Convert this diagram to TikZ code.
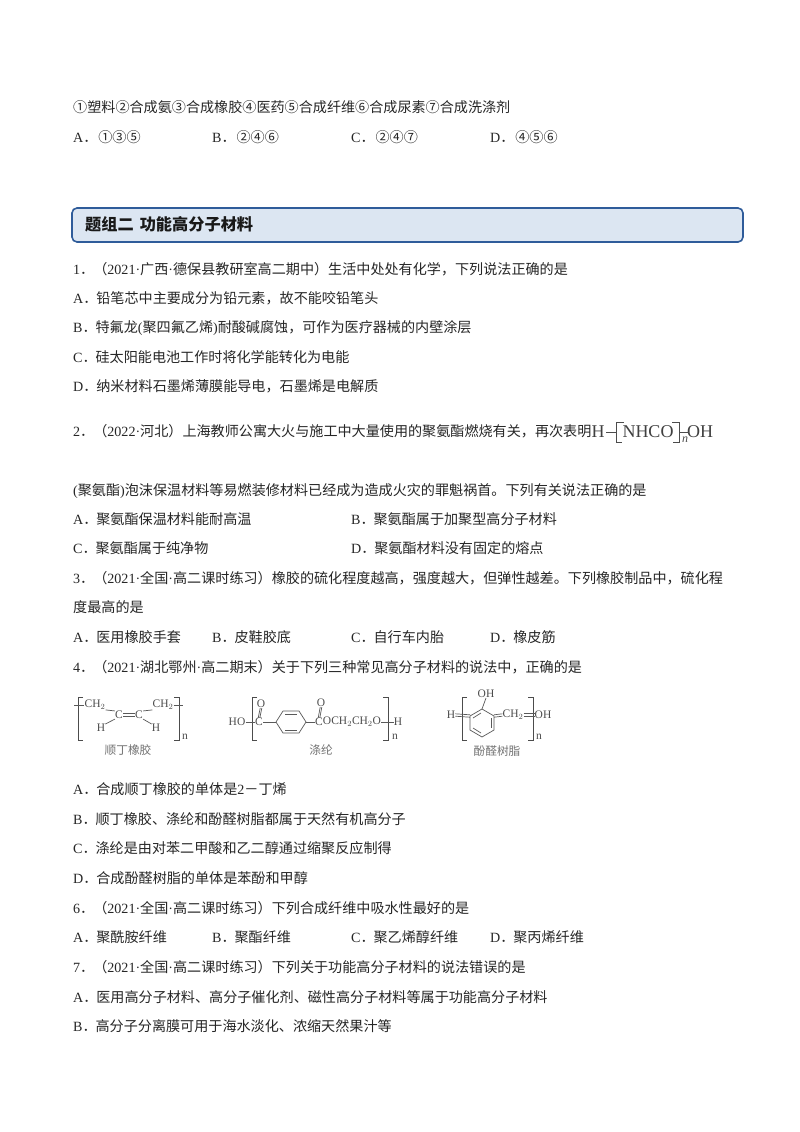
\documentclass[tikz,border=0pt]{standalone}
\usepackage{graphicx}
\usepackage{fontspec}
\setmainfont{Noto Sans CJK SC}
\newfontfamily\latf{Liberation Serif}
\newcommand\LL[1]{{\latf #1}}
\newcommand\dt{\makebox[13bp][l]{．}}
\newcommand\cn[1]{\makebox[1em]{#1}}
\newcounter{tl}
\tikzset{
  x=1bp,y=-1bp,
  body/.style={anchor=west,inner sep=0pt,text height=12.5bp,text depth=1.7bp,font=\fontsize{14.1bp}{15bp}\selectfont,text=black!85},
  chem/.style={inner sep=0pt,font=\latf\fontsize{11.5bp}{12bp}\selectfont,text=black!70},
  chemcap/.style={inner sep=0pt,font=\fontsize{11.7bp}{12bp}\selectfont,text=black!55},
  bond/.style={draw=black!65,line width=0.7bp},
  brk/.style={draw=black!70,line width=0.9bp},
  pu/.style={inner sep=0pt,font=\latf\fontsize{18bp}{18bp}\selectfont,text=black!75},
  head/.style={draw=headline,fill=headfill,line width=1.6bp,rounded corners=5bp},
}
\definecolor{headline}{HTML}{2F5C9A}
\definecolor{headfill}{HTML}{DCE6F2}
\newcommand\tx[3]{\stepcounter{tl}\node[body] (t\arabic{tl}) at (#1,#2) {#3};}
\begin{document}
\begin{tikzpicture}
\useasboundingbox (0,0) rectangle (800,1132);
\fill[white] (0,0) rectangle (800,1132);

\tx{73}{107}{\cn{①}塑料\cn{②}合成氨\cn{③}合成橡胶\cn{④}医药\cn{⑤}合成纤维\cn{⑥}合成尿素\cn{⑦}合成洗涤剂}
\tx{73}{137}{\LL{A}\dt\hspace{2bp}\cn{①}\cn{③}\cn{⑤}}
\tx{212}{137}{\LL{B}\dt\hspace{2bp}\cn{②}\cn{④}\cn{⑥}}
\tx{351}{137}{\LL{C}\dt\hspace{2bp}\cn{②}\cn{④}\cn{⑦}}
\tx{490}{137}{\LL{D}\dt\hspace{2bp}\cn{④}\cn{⑤}\cn{⑥}}

\draw[head] (72,208) rectangle (743,242);
\node[anchor=west,inner sep=0pt,font=\bfseries\fontsize{16.2bp}{17bp}\selectfont,text=black!90] (hd) at (85,224) {题组二\hspace{6bp}功能高分子材料};

\tx{73}{269}{\LL{1}\dt（\LL{2021·}广西\LL{·}德保县教研室高二期中）生活中处处有化学，下列说法正确的是}
\tx{73}{298}{\LL{A}\dt 铅笔芯中主要成分为铅元素，故不能咬铅笔头}
\tx{73}{327}{\LL{B}\dt 特氟龙\LL{(}聚四氟乙烯\LL{)}耐酸碱腐蚀，可作为医疗器械的内壁涂层}
\tx{73}{357}{\LL{C}\dt 硅太阳能电池工作时将化学能转化为电能}
\tx{73}{386}{\LL{D}\dt 纳米材料石墨烯薄膜能导电，石墨烯是电解质}
\tx{73}{431}{\LL{2}\dt（\LL{2022·}河北）上海教师公寓大火与施工中大量使用的聚氨酯燃烧有关，再次表明}

\node[pu] (puH) at (598,432) {H};
\node[pu] (puN) at (648,432) {NHCO};
\node[pu] (puO) at (700,432) {OH};
\node[inner sep=0pt,font=\latf\itshape\fontsize{12bp}{12bp}\selectfont,text=black!70] (pun) at (685,440) {n};
\draw[brk] (624,422) -- (616,422) -- (616,442) -- (622,442);
\draw[brk] (672,422) -- (679,422) -- (679,442) -- (673,442);
\draw[brk] (606,432) -- (616,432);
\draw[brk] (679,432) -- (689,432);

\tx{73}{490}{\LL{(}聚氨酯\LL{)}泡沫保温材料等易燃装修材料已经成为造成火灾的罪魁祸首。下列有关说法正确的是}
\tx{73}{519}{\LL{A}\dt 聚氨酯保温材料能耐高温}
\tx{351}{519}{\LL{B}\dt 聚氨酯属于加聚型高分子材料}
\tx{73}{548}{\LL{C}\dt 聚氨酯属于纯净物}
\tx{351}{548}{\LL{D}\dt 聚氨酯材料没有固定的熔点}
\tx{73}{578}{\LL{3}\dt（\LL{2021·}全国\LL{·}高二课时练习）橡胶的硫化程度越高，强度越大，但弹性越差。下列橡胶制品中，硫化程}
\tx{73}{607}{度最高的是}
\tx{73}{637}{\LL{A}\dt 医用橡胶手套}
\tx{212}{637}{\LL{B}\dt 皮鞋胶底}
\tx{351}{637}{\LL{C}\dt 自行车内胎}
\tx{490}{637}{\LL{D}\dt 橡皮筋}
\tx{73}{667}{\LL{4}\dt（\LL{2021·}湖北鄂州\LL{·}高二期末）关于下列三种常见高分子材料的说法中，正确的是}

% 顺丁橡胶
\draw[brk] (83,697) -- (78,697) -- (78,740) -- (83,740);
\draw[brk] (174,697) -- (179,697) -- (179,740) -- (174,740);
\node[chem] (a1) at (95,705) {CH$_2$};
\node[chem] (a2) at (119,715) {C};
\node[chem] (a3) at (139,715) {C};
\node[chem] (a4) at (163,705) {CH$_2$};
\node[chem] (a5) at (101,728) {H};
\node[chem] (a6) at (156,728) {H};
\node[chem] (a7) at (185,737) {n};
\node[chemcap] (a8) at (128,750) {顺丁橡胶};
\draw[bond] (74,705) -- (a1.west);
\draw[bond] (a4.east) -- (183,705);
\draw[bond] (a1.south east) -- (a2.north west);
\draw[bond] (a3.north east) -- (a4.south west);
\draw[bond] (a2.south west) -- (a5.north east);
\draw[bond] (a3.south east) -- (a6.north west);
\draw[bond] ([yshift=-1.5bp]a2.east) -- ([yshift=-1.5bp]a3.west);
\draw[bond] ([yshift=1.5bp]a2.east) -- ([yshift=1.5bp]a3.west);

% 涤纶
\draw[brk] (257,697) -- (252,697) -- (252,740) -- (257,740);
\draw[brk] (383,697) -- (388,697) -- (388,740) -- (383,740);
\node[chem] (b1) at (237,722) {HO};
\node[chem] (b2) at (259,722) {C};
\node[chem] (b3) at (261,704) {O};
\node[chem] (b4) at (321,703) {O};
\node[chem] (b5) at (319,722) {C};
\node[chem] (b6) at (352,722) {OCH$_2$CH$_2$O};
\node[chem] (b7) at (398,722) {H};
\node[chem] (b8) at (395,737) {n};
\node[chemcap] (b9) at (321,750) {涤纶};
\coordinate (r1) at (276,722);
\coordinate (r2) at (283,711);
\coordinate (r3) at (299,711);
\coordinate (r4) at (306,722);
\coordinate (r5) at (299,733);
\coordinate (r6) at (283,733);
\draw[bond] (r1) -- (r2) -- (r3) -- (r4) -- (r5) -- (r6) -- cycle;
\draw[bond] (285,714) -- (297,714);
\draw[bond] (285,730) -- (297,730);
\draw[bond] (b1.east) -- (b2.west);
\draw[bond] (b2.east) -- (r1);
\draw[bond] (r4) -- (b5.west);
\draw[bond] (b6.east) -- (b7.west);
\draw[bond] ([xshift=-0.8bp]b2.north) -- ([xshift=-0.8bp]b3.south);
\draw[bond] ([xshift=0.8bp]b2.north) -- ([xshift=0.8bp]b3.south);
\draw[bond] ([xshift=-0.8bp]b5.north) -- ([xshift=-0.8bp]b4.south);
\draw[bond] ([xshift=0.8bp]b5.north) -- ([xshift=0.8bp]b4.south);

% 酚醛树脂
\draw[brk] (467,697) -- (462,697) -- (462,740) -- (467,740);
\draw[brk] (528,697) -- (533,697) -- (533,740) -- (528,740);
\node[chem] (c1) at (451,715) {H};
\node[chem] (c2) at (486,694) {OH};
\node[chem] (c3) at (513,715) {CH$_2$};
\node[chem] (c4) at (543,715) {OH};
\node[chem] (c5) at (539,737) {n};
\node[chemcap] (c6) at (497,751) {酚醛树脂};
\coordinate (s1) at (482,709);
\coordinate (s2) at (494,716);
\coordinate (s3) at (494,730);
\coordinate (s4) at (482,737);
\coordinate (s5) at (470,730);
\coordinate (s6) at (470,716);
\draw[bond] (s1) -- (s2) -- (s3) -- (s4) -- (s5) -- (s6) -- cycle;
\draw[bond] (473,718) -- (481,713);
\draw[bond] (491,718) -- (491,728);
\draw[bond] (473,728) -- (481,733);
\draw[bond] ([yshift=-1.2bp]c1.east) -- ([yshift=-1.2bp]s6);
\draw[bond] ([yshift=1.2bp]c1.east) -- ([yshift=1.2bp]s6);
\draw[bond] (s1) -- (c2.south);
\draw[bond] ([yshift=-1.2bp]s2) -- ([yshift=-1.2bp]c3.west);
\draw[bond] ([yshift=1.2bp]s2) -- ([yshift=1.2bp]c3.west);
\draw[bond] ([yshift=-1.2bp]c3.east) -- ([yshift=-1.2bp]c4.west);
\draw[bond] ([yshift=1.2bp]c3.east) -- ([yshift=1.2bp]c4.west);

\tx{73}{789}{\LL{A}\dt 合成顺丁橡胶的单体是\LL{2}－丁烯}
\tx{73}{819}{\LL{B}\dt 顺丁橡胶、涤纶和酚醛树脂都属于天然有机高分子}
\tx{73}{848}{\LL{C}\dt 涤纶是由对苯二甲酸和乙二醇通过缩聚反应制得}
\tx{73}{878}{\LL{D}\dt 合成酚醛树脂的单体是苯酚和甲醇}
\tx{73}{908}{\LL{6}\dt（\LL{2021·}全国\LL{·}高二课时练习）下列合成纤维中吸水性最好的是}
\tx{73}{937}{\LL{A}\dt 聚酰胺纤维}
\tx{212}{937}{\LL{B}\dt 聚酯纤维}
\tx{351}{937}{\LL{C}\dt 聚乙烯醇纤维}
\tx{490}{937}{\LL{D}\dt 聚丙烯纤维}
\tx{73}{967}{\LL{7}\dt（\LL{2021·}全国\LL{·}高二课时练习）下列关于功能高分子材料的说法错误的是}
\tx{73}{997}{\LL{A}\dt 医用高分子材料、高分子催化剂、磁性高分子材料等属于功能高分子材料}
\tx{73}{1026}{\LL{B}\dt 高分子分离膜可用于海水淡化、浓缩天然果汁等}
\end{tikzpicture}
\end{document}
